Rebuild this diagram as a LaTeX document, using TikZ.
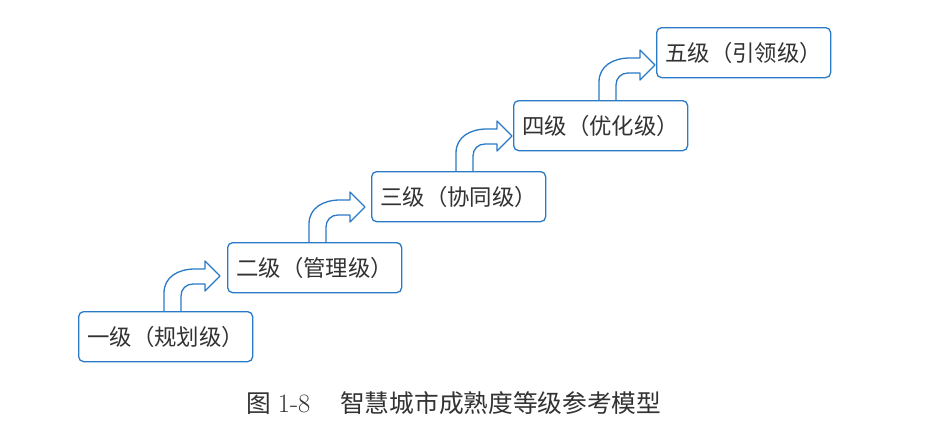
\documentclass[tikz,border=0pt]{standalone}
\usepackage{fontspec}
\newfontfamily\cjk{Noto Sans CJK SC}
\usetikzlibrary{calc}
\definecolor{boxblue}{RGB}{42,122,200}
\definecolor{txt}{RGB}{50,50,50}
\begin{document}
\begin{tikzpicture}[x=1pt,y=-1pt,
  lvl/.style={draw=boxblue, line width=1.3pt, rounded corners=5pt, fill=white,
    text=txt, font=\cjk\fontsize{22.4}{24}\selectfont, inner sep=0pt,
    anchor=north west, minimum width=174pt, minimum height=50pt},
  bendarrow/.style={draw=boxblue, line width=1.3pt, line join=round},
  captext/.style={font=\cjk\fontsize{24.7}{26}\selectfont, text=txt, anchor=west, inner sep=0pt}]
\useasboundingbox (0,0) rectangle (950,424);
\fill[white] (0,0) rectangle (950,424);

\node[lvl] (l1) at (78,311) {一级（规划级）};
\node[lvl] (l2) at (227,242) {二级（管理级）};
\node[lvl] (l3) at (371,171) {三级（协同级）};
\node[lvl] (l4) at (513,100) {四级（优化级）};
\node[lvl] (l5) at (656,27) {五级（引领级）};

\foreach \a/\dx in {l1/0, l2/-4, l3/-1, l4/0} {
  \begin{scope}[shift={($(\a.north west)+(\dx,0)$)}]
    \draw[bendarrow] (86,0) -- (86,-18) .. controls (86,-34) and (100,-42) .. (117,-42)
      -- (127,-42) -- (127,-50) -- (142,-35) -- (127,-20) -- (127,-27) -- (115,-27)
      .. controls (108,-27) and (103,-22) .. (103,-15) -- (103,0);
  \end{scope}
}

\node[captext] (cap) at (246,403) {图\hspace{7pt}{\rmfamily\fontsize{26.5}{28}\selectfont 1-8}\hspace{30pt}智慧城市成熟度等级参考模型};
\end{tikzpicture}
\end{document}
